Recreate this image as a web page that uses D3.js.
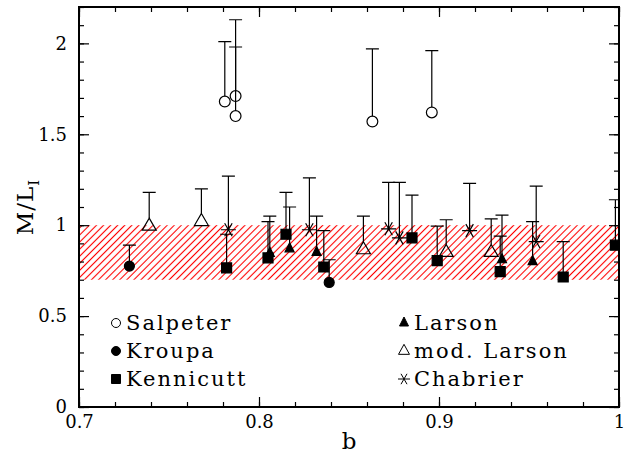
<!DOCTYPE html>
<html lang="en">
  <head>
    <meta charset="utf-8">
    <title>M/L vs b</title>
    <style>
    body { margin: 0; background: #fff; }
    text { font-family: "DejaVu Serif", "Liberation Serif", serif; fill: #000; }
    .tick text { font-size: 18px; }
    .legend text { font-size: 21px; letter-spacing: 2px; }
    </style>
  </head>
  <body>
    <div id="chart"></div>
    <script src="https://d3js.org/d3.v7.min.js"></script>
    <script>
    // values: b, M/L and the top of each error bar
    var salpeterB  = [0.781, 0.787, 0.787, 0.863, 0.896];
    var salpeterML = [1.68, 1.71, 1.60, 1.57, 1.62];
    var salpeterUp = [2.01, 2.13, 1.98, 1.97, 1.96];

    var kroupaB  = [0.728, 0.839];
    var kroupaML = [0.775, 0.685];
    var kroupaUp = [0.89, 0.81];

    var kennicuttB  = [0.782, 0.805, 0.815, 0.836, 0.885, 0.899, 0.934, 0.969, 0.998];
    var kennicuttML = [0.765, 0.82, 0.95, 0.77, 0.93, 0.805, 0.745, 0.715, 0.89];
    var kennicuttUp = [0.95, 1.02, 1.18, 0.97, 1.165, 0.995, 0.94, 0.91, 1.14];

    var larsonB  = [0.806, 0.817, 0.832, 0.935, 0.952];
    var larsonML = [0.845, 0.87, 0.85, 0.81, 0.80];
    var larsonUp = [1.05, 1.10, 1.05, 1.055, 1.02];

    var modLarsonB  = [0.739, 0.768, 0.858, 0.904, 0.929];
    var modLarsonML = [0.995, 1.02, 0.865, 0.85, 0.85];
    var modLarsonUp = [1.18, 1.20, 1.05, 1.03, 1.035];

    var chabrierB  = [0.783, 0.828, 0.872, 0.878, 0.917, 0.954];
    var chabrierML = [0.975, 0.975, 0.98, 0.93, 0.97, 0.91];
    var chabrierUp = [1.27, 1.26, 1.235, 1.235, 1.23, 1.215];

    var bandRange = [0.7, 1.0];
    var xMajor = [0.7, 0.8, 0.9, 1.0];
    var yMajor = [0, 0.5, 1, 1.5, 2];

    (function(d3) {
    'use strict';

    var width = 632, height = 460;
    var margin = {top: 7, right: 13, bottom: 53, left: 79};

    var x = d3.scaleLinear().domain([0.7, 1.0]).range([margin.left, width - margin.right]);
    var y = d3.scaleLinear().domain([0, 2.2]).range([height - margin.bottom, margin.top]);

    var x0 = x.range()[0], x1 = x.range()[1];
    var y0 = y.range()[0], y1 = y.range()[1];

    var svg = d3.select('#chart').append('svg')
        .attr('width', width)
        .attr('height', height);

    var defs = svg.append('defs');
    defs.append('clipPath').attr('id', 'plot-clip')
      .append('rect')
        .attr('x', x0).attr('y', y1)
        .attr('width', x1 - x0)
        .attr('height', y0 - y1);

    // red "////" hatching
    var hatch = defs.append('pattern')
        .attr('id', 'hatch')
        .attr('patternUnits', 'userSpaceOnUse')
        .attr('width', 5).attr('height', 10)
        .attr('patternTransform', 'rotate(45)');
    hatch.append('line')
        .attr('x1', 2.5).attr('y1', 0).attr('x2', 2.5).attr('y2', 10)
        .attr('stroke', '#ff0000').attr('stroke-width', 1.1);

    // shaded band
    svg.append('rect')
        .attr('x', x0)
        .attr('y', y(bandRange[1]))
        .attr('width', x1 - x0)
        .attr('height', y(bandRange[0]) - y(bandRange[1]))
        .attr('fill', 'url(#hatch)');

    // axes, ticks pointing inward on all four sides
    function minor(domain, step) {
        return d3.range(Math.round((domain[1] - domain[0]) / step) + 1)
            .map(function(i) { return domain[0] + i * step; });
    }
    var xMinor = minor(x.domain(), 0.02);
    var yMinor = minor(y.domain(), 0.1);
    var fmt = d3.format('~g');

    function addAxis(axis, tx, ty, values, size, labels) {
        var g = svg.append('g')
            .attr('transform', 'translate(' + tx + ',' + ty + ')')
            .call(axis.tickValues(values).tickSize(size).tickPadding(labels ? 6 : 0)
                .tickFormat(labels ? fmt : ''));
        g.select('.domain').remove();
        g.selectAll('.tick line').attr('stroke', '#000').attr('stroke-width', 1.2);
        return g;
    }

    addAxis(d3.axisBottom(x), 0, y0, xMinor, -5, false);
    var xAx = addAxis(d3.axisBottom(x), 0, y0, xMajor, -10, true);
    xAx.selectAll('.tick text').attr('y', 8).attr('dy', '0.71em');
    addAxis(d3.axisTop(x), 0, y1, xMinor, -5, false);
    addAxis(d3.axisTop(x), 0, y1, xMajor, -10, false);

    addAxis(d3.axisLeft(y), x0, 0, yMinor, -5, false);
    var yAx = addAxis(d3.axisLeft(y), x0, 0, yMajor, -10, true);
    yAx.selectAll('.tick text').attr('x', -12);
    addAxis(d3.axisRight(y), x1, 0, yMinor, -5, false);
    addAxis(d3.axisRight(y), x1, 0, yMajor, -10, false);

    svg.append('rect')
        .attr('x', x0).attr('y', y1)
        .attr('width', x1 - x0).attr('height', y0 - y1)
        .attr('fill', 'none').attr('stroke', '#000').attr('stroke-width', 2);

    // axis titles
    svg.append('text')
        .attr('x', (x0 + x1) / 2).attr('y', 449)
        .attr('text-anchor', 'middle')
        .style('font-size', '23px')
        .text('b');

    var yt = svg.append('text')
        .attr('transform', 'translate(33,' + ((y0 + y1) / 2) + ') rotate(-90)')
        .attr('text-anchor', 'middle')
        .style('font-size', '23px')
        .style('letter-spacing', '1px');
    yt.append('tspan').text('M/L');
    yt.append('tspan').attr('dy', 6).style('font-size', '15px').text('I');

    // marker shapes
    function circlePath(r) {
        return 'M' + (-r) + ',0a' + r + ',' + r + ' 0 1,0 ' + (2 * r) + ',0a' + r + ',' + r + ' 0 1,0 ' + (-2 * r) + ',0Z';
    }
    function squarePath(s) {
        var h = s / 2;
        return 'M' + (-h) + ',' + (-h) + 'H' + h + 'V' + h + 'H' + (-h) + 'Z';
    }
    function trianglePath(w, h) {
        return 'M0,' + (-h * 2 / 3) + 'L' + (w / 2) + ',' + (h / 3) + 'L' + (-w / 2) + ',' + (h / 3) + 'Z';
    }
    function starPath(r) {
        var a = Math.PI / 3, c = Math.cos(a) * r, s = Math.sin(a) * r;
        return 'M' + (-r) + ',0L' + r + ',0' +
            'M' + (-c) + ',' + (-s) + 'L' + c + ',' + s +
            'M' + c + ',' + (-s) + 'L' + (-c) + ',' + s;
    }

    var series = [
        {name: 'Salpeter', b: salpeterB, ml: salpeterML, up: salpeterUp,
         d: circlePath(5.4), fill: 'none', gap: 5.4, leg: circlePath(4.5)},
        {name: 'Kroupa', b: kroupaB, ml: kroupaML, up: kroupaUp,
         d: circlePath(5), fill: '#000', gap: 0, leg: circlePath(4.5)},
        {name: 'Kennicutt', b: kennicuttB, ml: kennicuttML, up: kennicuttUp,
         d: squarePath(10), fill: '#000', gap: 0, leg: squarePath(9)},
        {name: 'Larson', b: larsonB, ml: larsonML, up: larsonUp,
         d: trianglePath(9, 9), fill: '#000', gap: 0, leg: trianglePath(9, 9)},
        {name: 'mod. Larson', b: modLarsonB, ml: modLarsonML, up: modLarsonUp,
         d: trianglePath(14, 12), fill: 'none', gap: 8, leg: trianglePath(11, 10)},
        {name: 'Chabrier', b: chabrierB, ml: chabrierML, up: chabrierUp,
         d: starPath(7.5), fill: 'none', gap: 0, leg: starPath(6)}
    ];

    var plot = svg.append('g').attr('clip-path', 'url(#plot-clip)');

    series.forEach(function(s) {
        var pts = s.b.map(function(b, i) { return {b: b, ml: s.ml[i], up: s.up[i]}; });
        var g = plot.append('g');
        g.selectAll('.bar').data(pts).enter().append('path')
            .attr('fill', 'none').attr('stroke', '#000').attr('stroke-width', 1.2)
            .attr('d', function(p) {
                var px = x(p.b), py = y(p.ml) - s.gap, pu = y(p.up);
                return 'M' + px + ',' + py + 'V' + pu + 'M' + (px - 6.5) + ',' + pu + 'H' + (px + 6.5);
            });
        g.selectAll('.mark').data(pts).enter().append('path')
            .attr('transform', function(p) { return 'translate(' + x(p.b) + ',' + y(p.ml) + ')'; })
            .attr('d', s.d)
            .attr('fill', s.fill)
            .attr('stroke', '#000').attr('stroke-width', 1.2);
    });

    // legend, two columns of three
    var legendCols = [116, 404];
    var legendRows = [330, 358, 386];
    var legend = svg.selectAll('.legend').data(series).enter().append('g')
        .attr('class', 'legend')
        .attr('transform', function(d, i) {
            return 'translate(' + legendCols[Math.floor(i / 3)] + ',' + legendRows[i % 3] + ')';
        });
    legend.append('path')
        .attr('transform', 'translate(0,-7)')
        .attr('d', function(d) { return d.leg; })
        .attr('fill', function(d) { return d.fill; })
        .attr('stroke', '#000').attr('stroke-width', 1);
    legend.append('text')
        .attr('x', 10)
        .text(function(d) { return d.name; });

    })(window.d3);
    </script>
  </body>
</html>
